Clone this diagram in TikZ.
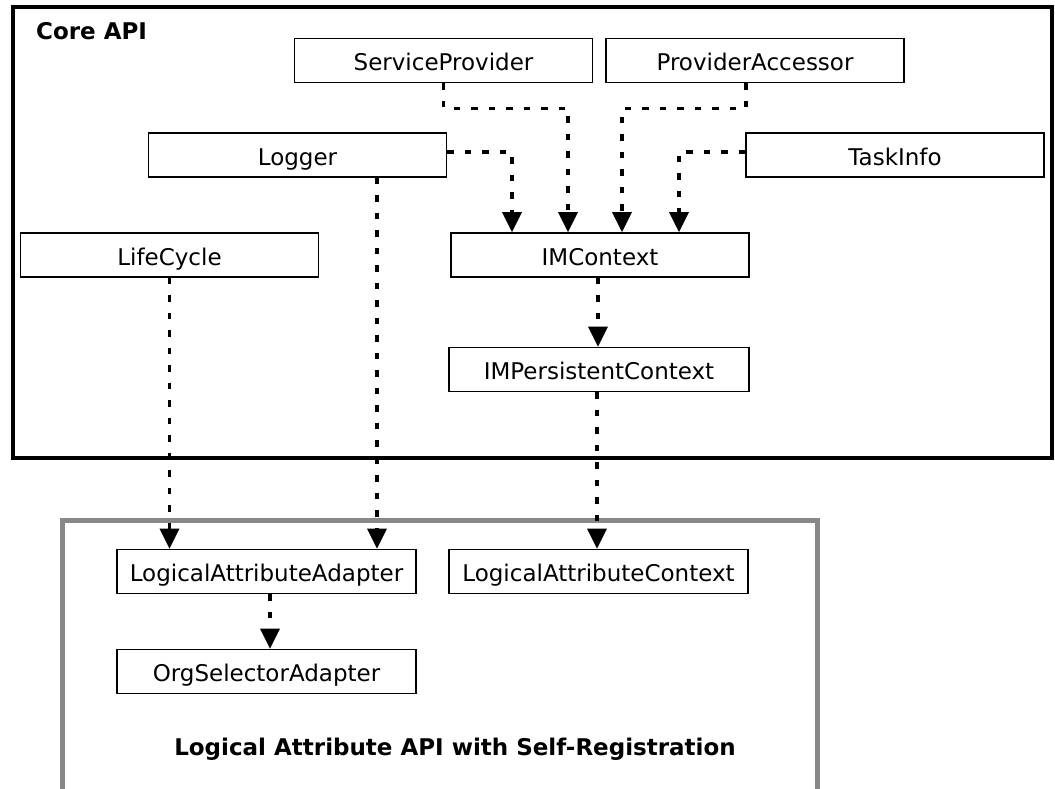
\documentclass[tikz,border=0pt]{standalone}
\usepackage{fontspec}
\setmainfont{DejaVu Sans}
\usetikzlibrary{arrows.meta}
\definecolor{framegray}{RGB}{136,136,136}
\begin{document}
\begin{tikzpicture}[x=1pt,y=-1pt,
  box/.style={draw=black, line width=1.6pt, minimum height=44pt, minimum width=298pt,
    inner sep=0pt, text height=20pt, text depth=0pt, font=\fontsize{23}{28}\selectfont},
  title/.style={font=\bfseries\fontsize{23}{28}\selectfont, inner sep=0pt},
  link/.style={line width=3.5pt, dash pattern=on 6.5pt off 11pt},
  conn/.style={link, -{Triangle[width=19pt,length=20pt]}}]
\useasboundingbox (0,0) rectangle (1055,789);
% containers
\draw[line width=4pt] (13,7.5) rectangle (1051.5,457.5);
\draw[line width=5pt, framegray] (62,800) -- (62,520) -- (817.5,520) -- (817.5,800);
\node[title, anchor=base west] (core) at (36,40) {Core API};
\node[title, anchor=base] (lapi) at (455,755) {Logical Attribute API with Self-Registration};
% boxes
\node[box] (sp)  at (443.5,60.5) {ServiceProvider};
\node[box] (pa)  at (755,60.5) {ProviderAccessor};
\node[box] (lg)  at (297.5,155) {Logger};
\node[box] (ti)  at (895,155) {TaskInfo};
\node[box] (lc)  at (169.5,255) {LifeCycle};
\node[box] (im)  at (600,255) {IMContext};
\node[box, minimum width=300pt] (imp) at (599,369.5) {IMPersistentContext};
\node[box, minimum width=299pt] (laa) at (266.5,571.5) {LogicalAttributeAdapter};
\node[box, minimum width=299pt] (lac) at (598.5,571.5) {LogicalAttributeContext};
\node[box, minimum width=299pt] (osa) at (266.5,671.5) {OrgSelectorAdapter};
% connectors
\draw[conn] (sp.south) -- ++(0,25) -| ([xshift=-32pt]im.north);
\draw[conn] ([xshift=-9pt]pa.south) -- ++(0,25) -| ([xshift=22pt]im.north);
\draw[conn] ([yshift=3pt]lg.east) -| ([xshift=-88pt]im.north);
\draw[conn] ([yshift=3pt]ti.west) -| ([xshift=79pt]im.north);
\draw[conn] ([xshift=79.5pt]lg.south) -- ([xshift=79.5pt]lg.south |- laa.north);
\draw[conn] (lc.south) -- (lc.south |- laa.north);
\draw[conn] ([xshift=-2pt]im.south) -- ([xshift=-2pt]im.south |- imp.north);
\draw[conn] ([xshift=-2pt]imp.south) -- ([xshift=-2pt]imp.south |- lac.north);
\draw[conn] ([xshift=3.5pt]laa.south) -- ([xshift=3.5pt]laa.south |- osa.north);
\end{tikzpicture}
\end{document}
